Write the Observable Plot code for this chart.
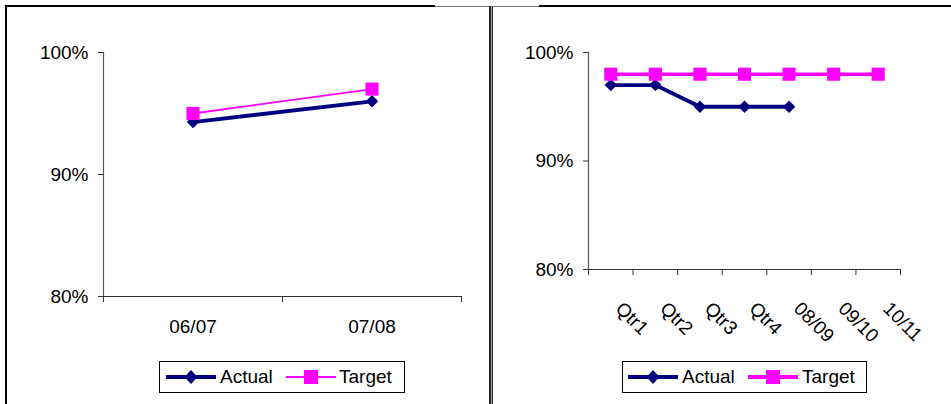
<!DOCTYPE html>
<html><head><meta charset="utf-8">
<script src="https://cdn.jsdelivr.net/npm/d3@7"></script>
<script src="https://cdn.jsdelivr.net/npm/@observablehq/plot@0.6"></script>
<style>
body{margin:0;background:#fff;font-family:"Liberation Sans",Arial,sans-serif;}
#wrap{position:relative;width:951px;height:404px;overflow:hidden;background:#fff}
.abs{position:absolute}
.legend{position:absolute;border:1px solid #000;box-sizing:border-box;font-size:19px;color:#000;background:#fff}
.legend span{position:absolute;top:4px;line-height:22px}
.legend svg{position:absolute;top:5px}
</style></head>
<body><div id="wrap"></div>
<script>
// ---- data ----
const leftCategories = ["06/07", "07/08"];
const leftActual = [0.943, 0.960];
const leftTarget = [0.950, 0.970];
const rightCategories = ["Qtr1", "Qtr2", "Qtr3", "Qtr4", "08/09", "09/10", "10/11"];
const rightActual = [0.970, 0.970, 0.950, 0.950, 0.950, null, null];
const rightTarget = [0.980, 0.980, 0.980, 0.980, 0.980, 0.980, 0.980];
const yTicks = [0.8, 0.9, 1.0];
const seriesNames = ["Actual", "Target"];
const NAVY = "#000080", MAGENTA = "#FF00FF";

const wrap = document.getElementById("wrap");

function rows(cats, vals) {
  return cats.map((c, i) => ({i: i + 0.5, cat: c, v: vals[i]})).filter(d => d.v != null);
}

function panel({cats, actual, target, width, height, marginLeft, marginRight, marginTop, marginBottom, targetWidth, rotate, labelPadding, labelDx, labelDy}) {
  const a = rows(cats, actual), t = rows(cats, target);
  return Plot.plot({
    width, height, marginLeft, marginRight, marginTop, marginBottom,
    style: {fontFamily: "Liberation Sans, Arial, sans-serif", fontSize: "19px", color: "#000", background: "transparent", overflow: "visible"},
    x: {type: "linear", domain: [0, cats.length], axis: null, label: null},
    y: {domain: [0.8, 1.0], axis: null, label: null},
    marks: [
      Plot.ruleX([0], {stroke: "#555", strokeWidth: 1.2}),
      Plot.ruleY([0.8], {stroke: "#333", strokeWidth: 1.2}),
      Plot.axisY(yTicks, {tickSize: 5, tickPadding: 10, label: null, tickFormat: d3.format(".0%"), stroke: "#333", fill: "#000"}),
      Plot.axisX(d3.range(cats.length + 1), {tickSize: 6, label: null, tickFormat: () => "", stroke: "#333"}),
      Plot.axisX(cats.map((c, i) => i + 0.5), {tickSize: 0, label: null, tickPadding: labelPadding, tickRotate: rotate, dx: labelDx, dy: labelDy, tickFormat: d => cats[Math.floor(d)], fill: "#000"}),
      Plot.line(a, {x: "i", y: "v", stroke: NAVY, strokeWidth: 3.8}),
      Plot.dot(a, {x: "i", y: "v", symbol: "diamond2", r: 5.6, fill: NAVY, stroke: "none"}),
      Plot.line(t, {x: "i", y: "v", stroke: MAGENTA, strokeWidth: targetWidth}),
      Plot.dot(t, {x: "i", y: "v", symbol: "square", r: 7.4, fill: MAGENTA, stroke: "none"})
    ]
  });
}

const left = panel({cats: leftCategories, actual: leftActual, target: leftTarget,
  width: 480, height: 340, marginLeft: 103, marginRight: 19, marginTop: 52, marginBottom: 44,
  targetWidth: 1.8, rotate: 0, labelPadding: 23, labelDx: 0, labelDy: 0});
left.style.position = "absolute"; left.style.left = "0px"; left.style.top = "0px";
wrap.appendChild(left);

const right = panel({cats: rightCategories, actual: rightActual, target: rightTarget,
  width: 471, height: 340, marginLeft: 108, marginRight: 51, marginTop: 52, marginBottom: 71,
  targetWidth: 3.5, rotate: 45, labelPadding: 22, labelDx: 8, labelDy: 14});
right.style.position = "absolute"; right.style.left = "480px"; right.style.top = "0px";
wrap.appendChild(right);

// frame lines
function box(l, t, w, h, bg) {
  const d = document.createElement("div");
  d.className = "abs";
  Object.assign(d.style, {left: l + "px", top: t + "px", width: w + "px", height: h + "px", background: bg});
  wrap.appendChild(d);
}
box(5, 5, 2, 399, "#000");
box(5, 5, 430, 2, "#000");
box(435, 6, 105, 1, "#777");
box(539, 5, 412, 2, "#000");
box(489, 6, 4, 398, "#222");
box(490.5, 6, 1, 398, "#aaa");

// legends
function legend(l, t, w, items) {
  const d = document.createElement("div");
  d.className = "legend";
  Object.assign(d.style, {left: l + "px", top: t + "px", width: w + "px", height: "32px"});
  items.forEach(it => {
    const s = document.createElementNS("http://www.w3.org/2000/svg", "svg");
    s.setAttribute("width", 54); s.setAttribute("height", 20);
    s.style.left = it.sx + "px";
    const c = it.color;
    let mk = it.shape === "diamond"
      ? `<path d="M27,3 L33.5,10 L27,17 L20.5,10 Z" fill="${c}"/>`
      : `<rect x="20" y="3" width="14" height="14" fill="${c}"/>`;
    s.innerHTML = `<line x1="2" y1="10" x2="52" y2="10" stroke="${c}" stroke-width="${it.lw}"/>` + mk;
    d.appendChild(s);
    const sp = document.createElement("span");
    sp.textContent = it.name; sp.style.left = it.tx + "px";
    d.appendChild(sp);
  });
  wrap.appendChild(d);
}
legend(159, 361, 246, [
  {name: seriesNames[0], color: NAVY, lw: 3.8, shape: "diamond", sx: 4, tx: 60},
  {name: seriesNames[1], color: MAGENTA, lw: 1.8, shape: "square", sx: 124, tx: 179}
]);
legend(622, 361, 245, [
  {name: seriesNames[0], color: NAVY, lw: 3.8, shape: "diamond", sx: 3, tx: 59},
  {name: seriesNames[1], color: MAGENTA, lw: 3.8, shape: "square", sx: 123, tx: 179}
]);
</script></body></html>
